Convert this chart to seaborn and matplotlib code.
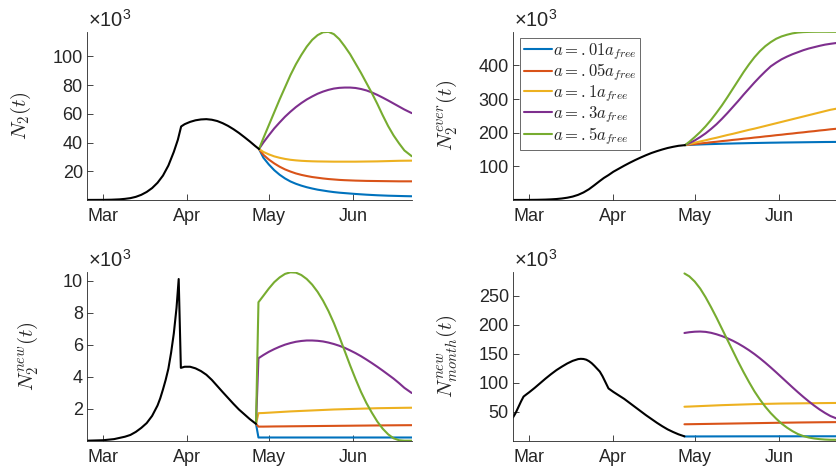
import numpy as np
import pandas as pd
import matplotlib
matplotlib.use("Agg")
import matplotlib.pyplot as plt
import matplotlib.dates as mdates
import seaborn as sns

# ---------------- data (values in thousands, days counted from 1 Mar 2020) ----------------
scenario_labels = [r"$a=.01a_{free}$", r"$a=.05a_{free}$", r"$a=.1a_{free}$",
                   r"$a=.3a_{free}$", r"$a=.5a_{free}$"]
scenario_colors = ["#0072BD", "#D95319", "#EDB120", "#7E2F8E", "#77AC30"]

# ---- N2(t)
n2_black_days = [-6, 0, 3, 6, 8, 10, 12, 14, 16, 18, 20, 22, 24, 26, 27.5, 28.7, 30, 32, 34, 36,
                 38, 40, 42, 44, 46, 48, 50, 52, 54, 56, 57.4]
n2_black = [0.05, 0.1, 0.2, 0.45, 0.8, 1.3, 2.2, 3.6, 5.6, 8.3, 12.0, 17.0, 24.0, 33.5, 42.0,
            51.2, 52.8, 54.4, 55.5, 56.1, 56.3, 55.9, 55.0, 53.5, 51.6, 49.3, 46.7, 43.8, 40.8,
            37.6, 35.5]
n2_scen_days = [57.4, 59, 61, 63, 65, 67, 69, 71, 73, 75, 77, 79, 81, 83, 85, 87, 89, 91, 93, 95,
                97, 99, 101, 103, 105, 107, 109, 111, 113.7]
n2_a01 = [35.5, 29.5, 24.8, 20.8, 17.6, 15.0, 12.9, 11.3, 10.0, 8.9, 8.0, 7.2, 6.6, 6.0, 5.5,
          5.1, 4.8, 4.5, 4.2, 3.95, 3.7, 3.5, 3.3, 3.15, 3.0, 2.9, 2.8, 2.7, 2.6]
n2_a05 = [35.5, 31.5, 28.2, 25.5, 23.2, 21.3, 19.8, 18.5, 17.5, 16.7, 16.0, 15.5, 15.0, 14.6,
          14.3, 14.0, 13.8, 13.65, 13.5, 13.4, 13.3, 13.25, 13.2, 13.15, 13.1, 13.05, 13.0,
          13.0, 13.0]
n2_a1 = [35.5, 33.5, 31.8, 30.4, 29.4, 28.6, 28.0, 27.6, 27.3, 27.1, 26.95, 26.85, 26.8, 26.75,
         26.7, 26.7, 26.7, 26.7, 26.7, 26.75, 26.8, 26.85, 26.9, 27.0, 27.1, 27.2, 27.3, 27.35,
         27.4]
n2_a3 = [35.5, 40.0, 45.0, 49.8, 54.0, 58.0, 61.5, 64.7, 67.5, 70.0, 72.1, 74.0, 75.5, 76.7,
         77.6, 78.1, 78.3, 78.3, 78.0, 77.3, 76.3, 74.9, 73.2, 71.3, 69.3, 67.2, 65.1, 63.0, 60.5]
n2_a5 = [35.5, 43.0, 52.0, 61.0, 70.0, 78.5, 87.0, 94.5, 101.0, 106.8, 111.5, 114.8, 116.8,
         117.1, 115.5, 112.0, 107.0, 101.5, 95.0, 88.5, 81.5, 74.5, 67.0, 59.0, 51.5, 45.0, 39.5,
         34.5, 30.5]

# ---- N2^ever(t)
ever_black_days = [-6, 0, 3, 6, 8, 10, 12, 14, 16, 18, 20, 22, 24, 26, 27.5, 29.2, 31, 33, 35,
                   37, 39, 41, 43, 45, 47, 49, 51, 53, 55, 57.4]
ever_black = [0.1, 0.3, 0.6, 1.2, 1.9, 2.9, 4.5, 6.8, 10.2, 15.3, 22.5, 32.0, 44.0, 56.5, 65.5,
              74.0, 84.0, 93.0, 102.0, 110.5, 118.5, 126.0, 133.0, 139.5, 145.0, 150.0, 154.5,
              158.0, 161.0, 163.0]
ever_scen_days = [57.4, 59, 61, 63, 65, 67, 69, 71, 73, 75, 77, 79, 81, 83, 85, 87, 89, 91, 93,
                  95, 97, 99, 101, 103, 105, 107, 109, 111, 113.7]
ever_a01 = [163, 163.7, 164.4, 165, 165.6, 166.1, 166.6, 167.1, 167.5, 167.9, 168.3, 168.6, 169,
            169.3, 169.6, 169.9, 170.2, 170.4, 170.7, 170.9, 171.1, 171.3, 171.5, 171.7, 171.9,
            172.1, 172.3, 172.4, 172.6]
ever_a05 = [163, 164.5, 166, 168, 169.5, 171.5, 173, 175, 176.5, 178.5, 180, 182, 183.5, 185.5,
            187, 189, 190.5, 192.5, 194, 196, 197.5, 199.5, 201, 203, 204.5, 206.5, 208, 210, 212]
ever_a1 = [163, 166, 170, 174, 177.5, 181.5, 185, 189, 193, 196.5, 200.5, 204.5, 208.5, 212,
           216, 220, 224, 228, 232, 236, 240, 244, 248, 252, 256, 260, 264, 268, 272]
ever_a3 = [163, 169, 177, 187, 198, 211, 225, 241, 258, 276, 294, 313, 331, 349, 366, 382, 397,
           408, 418, 426, 433, 439, 445, 450, 454, 458, 461.5, 464, 467]
ever_a5 = [163, 173, 187, 202, 219, 238, 259, 281, 305, 330, 355, 380, 403, 424, 442, 457, 469,
           479, 486, 491, 495, 497.5, 498.8, 499.4, 499.7, 499.8, 499.8, 499.7, 499.6]

# ---- N2^new(t)
new_black_days = [-6, 0, 4, 8, 10, 12, 14, 16, 18, 20, 21, 22, 23, 24, 25, 26, 27, 27.8, 28.6,
                  30, 32, 34, 36, 38, 40, 42, 44, 46, 48, 50, 52, 54, 56.3]
new_black = [0.0, 0.03, 0.1, 0.25, 0.36, 0.55, 0.8, 1.1, 1.55, 2.2, 2.65, 3.2, 3.8, 4.5, 5.5,
             6.7, 8.3, 10.1, 4.55, 4.62, 4.62, 4.52, 4.35, 4.12, 3.8, 3.42, 3.04, 2.67, 2.3, 1.95,
             1.65, 1.35, 1.05]
new_scen_days = [56.3, 57.2, 59, 61, 63, 65, 67, 69, 71, 73, 75, 77, 79, 81, 83, 85, 87, 89, 91,
                 93, 95, 97, 99, 101, 103, 105, 107, 109, 111, 113.7]
new_a01 = [1.05] + [0.2] * 29
new_a05 = [1.05, 0.88, 0.88, 0.885, 0.89, 0.893, 0.896, 0.9, 0.903, 0.906, 0.91, 0.913, 0.916,
           0.92, 0.923, 0.926, 0.93, 0.933, 0.936, 0.94, 0.943, 0.946, 0.95, 0.953, 0.956, 0.96,
           0.962, 0.965, 0.967, 0.97]
new_a1 = [1.05, 1.72, 1.73, 1.75, 1.77, 1.79, 1.81, 1.83, 1.845, 1.86, 1.875, 1.89, 1.905, 1.92,
          1.935, 1.95, 1.96, 1.97, 1.98, 1.99, 2.0, 2.01, 2.02, 2.03, 2.035, 2.04, 2.045, 2.05,
          2.055, 2.06]
new_a3 = [1.05, 5.15, 5.35, 5.55, 5.72, 5.87, 6.0, 6.1, 6.18, 6.23, 6.26, 6.26, 6.24, 6.2, 6.13,
          6.04, 5.93, 5.8, 5.64, 5.47, 5.28, 5.07, 4.85, 4.62, 4.38, 4.13, 3.88, 3.6, 3.3, 2.98]
new_a5 = [1.05, 8.65, 9.05, 9.5, 9.9, 10.2, 10.42, 10.52, 10.5, 10.35, 10.1, 9.75, 9.3, 8.75,
          8.1, 7.35, 6.5, 5.6, 4.7, 3.85, 3.05, 2.35, 1.75, 1.2, 0.75, 0.4, 0.15, 0.03, 0.0, 0.0]

# ---- N_month^new(t)
month_black_days = [-6, -5, -4, -3, -2.1, -1, 0, 2, 4, 6, 8, 10, 12, 14, 16, 18, 19, 20, 21, 22,
                    23, 24, 25, 26, 27, 28, 29.2, 31, 33, 35, 37, 39, 41, 43, 45, 47, 49, 51, 53,
                    55, 57.2]
month_black = [40, 48, 58, 68, 76, 80, 83.5, 91, 99, 107, 114.5, 121.5, 127.5, 133, 137.5, 140.5,
               141, 140.7, 139.5, 137, 133.5, 129, 124, 119, 111, 101.5, 90, 84, 78, 72, 65, 58,
               51, 44, 37.5, 31, 25, 19.5, 15, 11, 7.5]
month_scen_days = [57.2, 59, 61, 63, 65, 67, 69, 71, 73, 75, 77, 79, 81, 83, 85, 87, 89, 91, 93,
                   95, 97, 99, 101, 103, 105, 107, 109, 111, 113.7]
month_a01 = [7.3, 7.3, 7.32, 7.34, 7.36, 7.38, 7.4, 7.42, 7.44, 7.46, 7.48, 7.5, 7.5, 7.52,
             7.52, 7.54, 7.54, 7.56, 7.56, 7.57, 7.57, 7.58, 7.58, 7.59, 7.59, 7.6, 7.6, 7.6, 7.6]
month_a05 = [28.3, 28.4, 28.55, 28.7, 28.85, 29.0, 29.15, 29.3, 29.45, 29.6, 29.75, 29.9, 30.05,
             30.2, 30.35, 30.5, 30.65, 30.8, 30.95, 31.1, 31.2, 31.35, 31.45, 31.55, 31.65, 31.75,
             31.85, 31.9, 32.0]
month_a1 = [58.5, 58.8, 59.2, 59.6, 60.0, 60.4, 60.8, 61.2, 61.5, 61.8, 62.1, 62.4, 62.7, 63.0,
            63.2, 63.4, 63.6, 63.8, 64.0, 64.1, 64.2, 64.3, 64.4, 64.5, 64.6, 64.7, 64.8, 64.9,
            65.0]
month_a3 = [185.5, 186.8, 187.7, 188, 187.4, 185.8, 183.3, 180.2, 176.5, 172.2, 167.3, 161.8,
            155.8, 149.2, 142, 134.3, 126.2, 117.8, 109.2, 100.6, 92, 83.6, 75.5, 67.8, 60.5,
            53.8, 47.8, 42.5, 37.5]
month_a5 = [288, 283, 274, 262, 247, 230, 212, 193, 174, 155, 136, 118, 101, 85, 71, 58.5, 47.5,
            38, 29.5, 22.5, 16.5, 11.5, 8, 5.5, 3.8, 2.7, 2.0, 1.6, 1.5]

month_ticks = ["2020-03-01", "2020-04-01", "2020-05-01", "2020-06-01"]

# ---------------- style ----------------
sns.set_style("ticks")
plt.rcParams["font.family"] = ["Liberation Sans", "DejaVu Sans"]
plt.rcParams["mathtext.fontset"] = "cm"
plt.rcParams["mathtext.rm"] = "Liberation Sans"
plt.rcParams["mathtext.it"] = "Liberation Sans:italic"
plt.rcParams["mathtext.bf"] = "Liberation Sans:bold"
TXT = "#262626"

origin = pd.Timestamp("2020-03-01")


def to_dates(days):
    return origin + pd.to_timedelta(np.asarray(days, dtype=float), unit="D")


fig = plt.figure(figsize=(8.37, 4.68), dpi=100)
W = 325 / 837
positions = [
    [87 / 837, 1 - 200 / 468, W, 168.3 / 468],
    [513 / 837, 1 - 200 / 468, W, 168.3 / 468],
    [87 / 837, 1 - 440.7 / 468, W, 168.4 / 468],
    [513 / 837, 1 - 440.7 / 468, W, 168.4 / 468],
]

panels = [
    (n2_black_days, n2_black, n2_scen_days, [n2_a01, n2_a05, n2_a1, n2_a3, n2_a5],
     r"$N_2(t)$", (0, 117.2), [20, 40, 60, 80, 100], -0.203),
    (ever_black_days, ever_black, ever_scen_days, [ever_a01, ever_a05, ever_a1, ever_a3, ever_a5],
     r"$N_2^{ever}(t)$", (0, 500), [100, 200, 300, 400], -0.203),
    (new_black_days, new_black, new_scen_days, [new_a01, new_a05, new_a1, new_a3, new_a5],
     r"$N_2^{new}(t)$", (0, 10.52), [2, 4, 6, 8, 10], -0.183),
    (month_black_days, month_black, month_scen_days,
     [month_a01, month_a05, month_a1, month_a3, month_a5],
     r"$N_{month}^{new}(t)$", (0, 290), [50, 100, 150, 200, 250], -0.203),
]

for i, (bd, bv, sd, series, ylab, ylim, yticks, labx) in enumerate(panels):
    ax = fig.add_axes(positions[i])
    for vals, col, lab in zip(series, scenario_colors, scenario_labels):
        df = pd.DataFrame({"t": to_dates(sd), "v": vals})
        sns.lineplot(data=df, x="t", y="v", ax=ax, color=col, lw=1.5, label=lab,
                     legend=False, estimator=None, sort=False)
    dfb = pd.DataFrame({"t": to_dates(bd), "v": bv})
    sns.lineplot(data=dfb, x="t", y="v", ax=ax, color="black", lw=1.5, legend=False,
                 estimator=None, sort=False)

    ax.set_xlim(to_dates([-6])[0], to_dates([113.8])[0])
    ax.set_ylim(*ylim)
    ax.set_xticks(pd.to_datetime(month_ticks))
    ax.xaxis.set_major_formatter(mdates.DateFormatter("%b"))
    ax.set_yticks(yticks)
    ax.set_xlabel("")
    ax.set_ylabel(ylab, fontsize=15, color=TXT, va="center")
    ax.yaxis.set_label_coords(labx, 0.5)
    for s in ["top", "right"]:
        ax.spines[s].set_visible(False)
    for s in ["left", "bottom"]:
        ax.spines[s].set_color(TXT)
        ax.spines[s].set_linewidth(0.6)
    ax.tick_params(axis="both", direction="in", length=4, width=0.6, color=TXT,
                   labelcolor=TXT, labelsize=13)
    ax.tick_params(axis="x", pad=6)
    ax.tick_params(axis="y", pad=3)
    # MATLAB style exponent label
    ax.text(0.003, 1.03, r"$\mathregular{\times10^{3}}$", transform=ax.transAxes,
            ha="left", va="baseline", fontsize=14.5, color=TXT, math_fontfamily="custom")
    if i == 1:
        leg = ax.legend(loc="upper left", bbox_to_anchor=(0.012, 0.985), fontsize=12,
                        frameon=True, fancybox=False, handlelength=1.7, handletextpad=0.05,
                        borderpad=0.2, labelspacing=0.0, borderaxespad=0.2)
        leg.get_frame().set_edgecolor(TXT)
        leg.get_frame().set_linewidth(0.6)
        for t in leg.get_texts():
            t.set_color(TXT)

fig.savefig("out.png", dpi=100)
